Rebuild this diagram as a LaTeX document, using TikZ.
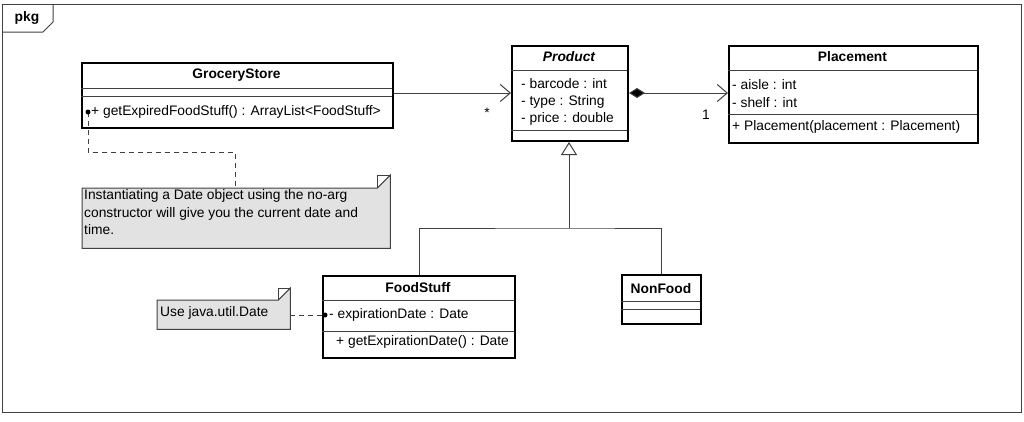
\documentclass[tikz,border=0pt]{standalone}
\usepackage{fontspec}
\setmainfont{Liberation Sans}
\usetikzlibrary{arrows.meta,calc,backgrounds}

\definecolor{linegray}{RGB}{64,64,64}
\definecolor{notegray}{RGB}{226,226,226}
\newcommand{\umlsize}{\fontsize{13.8}{17.3}\selectfont}

\tikzset{
  umlbox/.style={draw=black, line width=2pt, inner sep=0pt, fill=white},
  divider/.style={draw=linegray, line width=1pt},
  member/.style={anchor=west, inner sep=0pt, align=left},
  clsname/.style={inner sep=0pt, font=\umlsize\bfseries},
  assoc/.style={draw=linegray, line width=1pt, -{Straight Barb[length=10pt,width=17pt,line width=1pt]}},
  compos/.style={draw=linegray, line width=1pt,
    {Diamond[length=16pt,width=10pt,fill=black]}-{Straight Barb[length=10pt,width=17pt,line width=1pt]}},
  generalize/.style={draw=linegray, line width=1pt, -{Triangle[open,length=13pt,width=16pt,fill=white]}},
  notebox/.style={inner sep=0pt, anchor=north west},
  notefold/.style={draw=linegray, line width=1pt, fill=notegray},
  notelink/.style={draw=linegray, line width=1pt, dash pattern=on 5pt off 4pt},
}

\begin{document}
\begin{tikzpicture}[x=1pt, y=-1pt, font=\umlsize]
    \useasboundingbox (0,0) rectangle (1024,421);

    % package frame
    \draw[linegray, line width=1pt] (2,4) rectangle (1021,412);
    \draw[linegray, line width=1pt] (2,32) -- (43,32) -- (53,22) -- (53,4);
    \node[clsname] (pkg) at (27,18) {pkg};

    % GroceryStore
    \node[umlbox, minimum width=311, minimum height=65, anchor=north west] (grocery) at (81,62) {};
    \draw[divider] (81,88) -- (392,88);
    \draw[divider] (81,96) -- (392,96);
    \node[clsname] (groceryname) at (236.5,75) {GroceryStore};
    \node[member] (groceryops) at (91,112) {+ getExpiredFoodStuff() : ArrayList<FoodStuff>};

    % Product
    \node[umlbox, minimum width=116, minimum height=95, anchor=north west] (product) at (511,45) {};
    \draw[divider] (511,70) -- (627,70);
    \draw[divider] (511,130) -- (627,130);
    \node[clsname, font=\umlsize\bfseries\itshape] (productname) at (569,57) {Product};
    \node[member] (productattr) at (521,102) {- barcode : int\\- type : String\\- price : double};

    % Placement
    \node[umlbox, minimum width=249, minimum height=97, anchor=north west] (placement) at (728,45) {};
    \draw[divider] (728,70) -- (977,70);
    \draw[divider] (728,114) -- (977,114);
    \node[clsname] (placementname) at (852.5,57) {Placement};
    \node[member] (placementattr) at (732,93.5) {- aisle : int\\- shelf : int};
    \node[member] (placementops) at (732,127) {+ Placement(placement : Placement)};

    % FoodStuff
    \node[umlbox, minimum width=192, minimum height=82, anchor=north west] (food) at (322,275) {};
    \draw[divider] (322,300) -- (514,300);
    \draw[divider] (322,331) -- (514,331);
    \node[clsname] (foodname) at (418,288) {FoodStuff};
    \node[member] (foodattr) at (329,315) {- expirationDate : Date};
    \node[member] (foodops) at (336,342) {+ getExpirationDate() : Date};

    % NonFood
    \node[umlbox, minimum width=79, minimum height=49, anchor=north west] (nonfood) at (621,274) {};
    \draw[divider] (621,301) -- (700,301);
    \draw[divider] (621,309) -- (700,309);
    \node[clsname] (nonfoodname) at (661,289) {NonFood};

    % associations
    \draw[assoc] (grocery.east |- 0,93) -- (product.west |- 0,93);
    \node[inner sep=0pt] (many) at (487,113) {*};
    \draw[compos] (product.east |- 0,93) -- (placement.west |- 0,93);
    \node[inner sep=0pt] (one) at (706,115) {1};

    % generalization
    \coordinate (split) at (569,228);
    \draw[generalize] (split) -- (product.south -| split);
    \draw[divider] (food.north -| 419,0) |- (split) -| (nonfood.north -| 661,0);

    % notes
    \node[notebox, minimum width=308, minimum height=60] (note1) at (82,188) {};
    \node[member, anchor=north west, inner sep=0pt] (note1text) at (84,189.5)
      {Instantiating a Date object using the no-arg\\constructor will give you the current date and\\time.};
    \node[notebox, minimum width=133, minimum height=29] (note2) at (157,300) {};
    \node[member] (note2text) at (160,313) {Use java.util.Date};
    \begin{scope}[on background layer]
      \draw[notefold] (note1.north west) -- ([xshift=-13pt]note1.north east) -- ([yshift=13pt]note1.north east)
        -- (note1.south east) -- (note1.south west) -- cycle;
      \draw[linegray, line width=1pt] ([xshift=-13pt]note1.north east) |- ([yshift=13pt]note1.north east);
      \draw[notefold] (note2.north west) -- ([xshift=-12pt]note2.north east) -- ([yshift=12pt]note2.north east)
        -- (note2.south east) -- (note2.south west) -- cycle;
      \draw[linegray, line width=1pt] ([xshift=-12pt]note2.north east) |- ([yshift=12pt]note2.north east);
    \end{scope}

    % note links
    \coordinate (gdot) at (88,112);
    \coordinate (gbend) at (235,152);
    \coordinate (fdot) at (325,315);
    \draw[notelink] (gdot) |- (gbend) -- (gbend |- note1.north);
    \draw[notelink] (note2.east |- fdot) -- (fdot);
    \fill[black] (gdot) circle (2.5pt);
    \fill[black] (fdot) circle (2.5pt);
\end{tikzpicture}
\end{document}
